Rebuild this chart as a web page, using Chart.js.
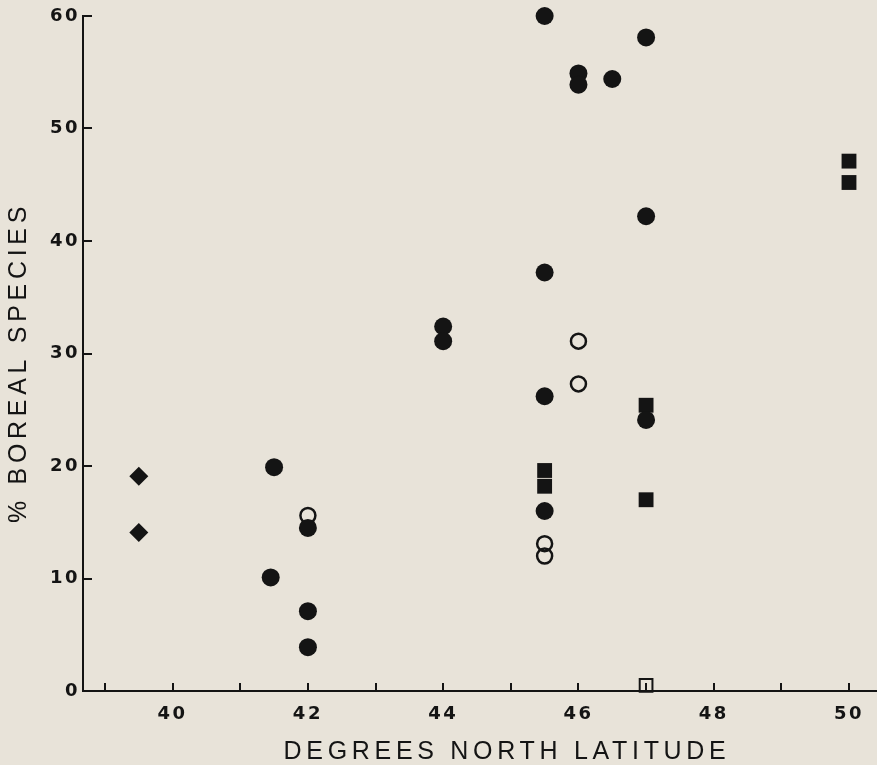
<!DOCTYPE html>
<html>
<head>
<meta charset="utf-8">
<script src="https://cdn.jsdelivr.net/npm/chart.js@4"></script>
<style>
  html, body { margin: 0; padding: 0; background: #e8e3d9; }
  canvas { display: block; }
</style>
</head>
<body>
<canvas id="borealChart" width="877" height="765"></canvas>
<script>
// degrees north latitude / % boreal species, one pair of arrays per marker type
const filledCircleLat = [45.5, 47, 46, 46, 46.5, 47, 45.5, 44, 44, 45.5, 47, 41.5, 45.5, 42, 41.45, 42, 42];
const filledCirclePct = [60, 58.1, 54.9, 53.9, 54.4, 42.2, 37.2, 32.4, 31.1, 26.2, 24.1, 19.9, 16.0, 14.5, 10.1, 7.1, 3.9];

const openCircleLat = [46, 46, 42, 45.5, 45.5];
const openCirclePct = [31.1, 27.3, 15.6, 13.1, 12.0];

const filledSquareLat = [50, 50, 47, 45.5, 45.5, 47];
const filledSquarePct = [47.1, 45.2, 25.4, 19.6, 18.2, 17.0];

const openSquareLat = [47];
const openSquarePct = [0.5];

const diamondLat = [39.5, 39.5];
const diamondPct = [19.1, 14.1];

const xTickValues = [40, 42, 44, 46, 48, 50];
const yTickValues = [0, 10, 20, 30, 40, 50, 60];

const xTitle = 'DEGREES NORTH LATITUDE';
const yTitle = '% BOREAL SPECIES';

const ink = '#141414';

const toPoints = (xs, ys) => xs.map((x, i) => ({ x: x, y: ys[i] }));

const titlesPlugin = {
    id: 'titles',
    beforeDraw(chart) {
        chart.ctx.letterSpacing = '2.5px';
    },
    afterDraw(chart) {
        const { ctx, chartArea } = chart;
        ctx.save();
        ctx.fillStyle = ink;
        ctx.font = '25px "Liberation Sans"';
        ctx.letterSpacing = '4.7px';
        ctx.textAlign = 'center';
        ctx.textBaseline = 'middle';
        ctx.fillText(xTitle, (chartArea.left + chartArea.right) / 2 + 27, 752);
        ctx.translate(19, (chartArea.top + chartArea.bottom) / 2 + 9);
        ctx.rotate(-Math.PI / 2);
        ctx.fillText(yTitle, 0, 0);
        ctx.restore();
    }
};

const ctx = document.getElementById('borealChart').getContext('2d');

const borealChart = new Chart(ctx, {
    type: 'scatter',
    data: {
        datasets: [
            {
                data: toPoints(filledCircleLat, filledCirclePct),
                pointStyle: 'circle',
                pointRadius: 9,
                pointBorderWidth: 0,
                backgroundColor: ink,
                clip: false
            },
            {
                data: toPoints(filledSquareLat, filledSquarePct),
                pointStyle: 'rect',
                pointRadius: 10.5,
                pointBorderWidth: 0,
                backgroundColor: ink,
                clip: false
            },
            {
                data: toPoints(diamondLat, diamondPct),
                pointStyle: 'rectRot',
                pointRadius: 9.5,
                pointBorderWidth: 0,
                backgroundColor: ink,
                clip: false
            },
            {
                data: toPoints(openCircleLat, openCirclePct),
                pointStyle: 'circle',
                pointRadius: 7.5,
                pointBorderWidth: 2.5,
                borderColor: ink,
                backgroundColor: 'rgba(0,0,0,0)',
                clip: false
            },
            {
                data: toPoints(openSquareLat, openSquarePct),
                pointStyle: 'rect',
                pointRadius: 9,
                pointBorderWidth: 2,
                borderColor: ink,
                backgroundColor: 'rgba(0,0,0,0)',
                clip: false
            }
        ]
    },
    options: {
        responsive: false,
        animation: false,
        events: [],
        layout: { autoPadding: false, padding: { top: 16, right: 0, bottom: 0, left: 0 } },
        plugins: {
            legend: { display: false },
            tooltip: { enabled: false }
        },
        scales: {
            x: {
                type: 'linear',
                min: 38.675,
                max: 50.414,
                afterFit: scale => {
                    scale.height = 74;
                    scale.paddingLeft = 0;
                    scale.paddingRight = 0;
                },
                border: { display: true, color: ink, width: 2 },
                grid: { drawOnChartArea: false, drawTicks: true, tickLength: -8, color: ink, lineWidth: 2 },
                ticks: {
                    stepSize: 1,
                    includeBounds: false,
                    autoSkip: false,
                    maxRotation: 0,
                    padding: 21,
                    color: ink,
                    font: { family: '"DejaVu Sans"', size: 18, weight: 'bold' },
                    callback: v => xTickValues.includes(v) ? String(v) : ''
                }
            },
            y: {
                min: 0,
                max: 60,
                afterFit: scale => {
                    scale.width = 83;
                    scale.paddingTop = 0;
                    scale.paddingBottom = 0;
                },
                border: { display: true, color: ink, width: 2 },
                grid: { drawOnChartArea: false, drawTicks: true, tickLength: -9, color: ink, lineWidth: 2 },
                ticks: {
                    stepSize: 10,
                    autoSkip: false,
                    padding: 12,
                    color: ink,
                    font: { family: '"DejaVu Sans"', size: 18, weight: 'bold' },
                    callback: v => yTickValues.includes(v) ? String(v) : ''
                }
            }
        }
    },
    plugins: [titlesPlugin]
});
</script>
</body>
</html>
